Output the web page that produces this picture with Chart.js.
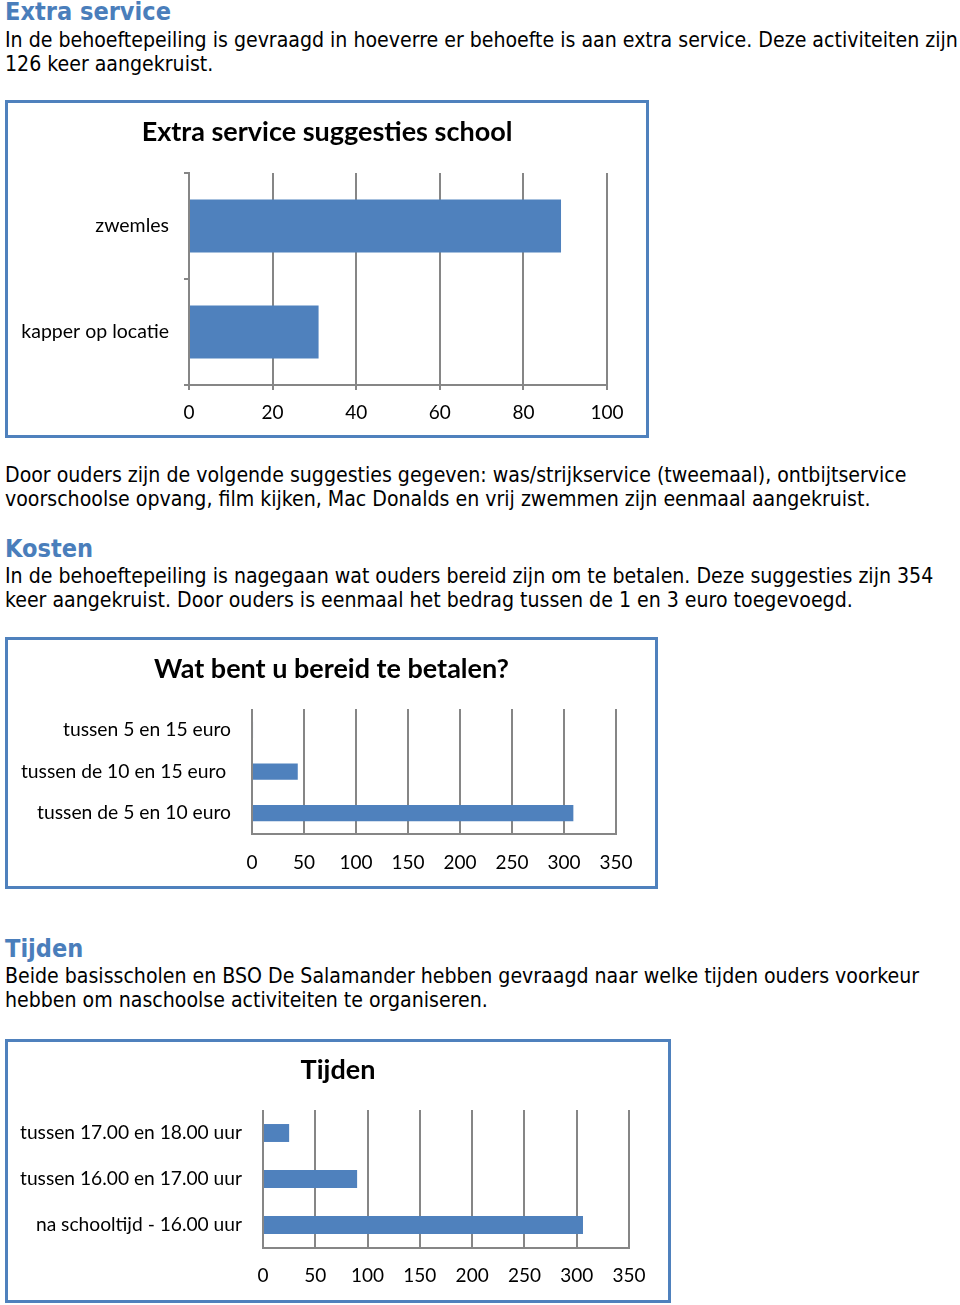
<!DOCTYPE html>
<html>
<head>
<meta charset="utf-8">
<script src="https://cdn.jsdelivr.net/npm/chart.js@4"></script>
<style>
  html, body { margin: 0; padding: 0; background: #fff; }
  body { width: 960px; height: 1305px; position: relative; overflow: hidden; }
  .line { position: absolute; left: 5px; white-space: nowrap; line-height: normal; color: #000;
          font-family: 'DejaVu Sans Condensed', 'DejaVu Sans', sans-serif; }
  .head { color: #4a7ebb; font-weight: bold; }
  .box { position: absolute; left: 5px; box-sizing: border-box; border: 3px solid #4f81bd; background: #fff; }
  .box canvas { display: block; }
</style>
</head>
<body>
<div class="line head" data-base="20">Extra service</div>
<div class="line body" data-base="47">In de behoeftepeiling is gevraagd in hoeverre er behoefte is aan extra service. Deze activiteiten zijn</div>
<div class="line body" data-base="71">126 keer aangekruist.</div>

<div class="box" style="top:100px;width:644px;height:338px"><canvas id="serviceChart" width="638" height="332"></canvas></div>

<div class="line body" data-base="482">Door ouders zijn de volgende suggesties gegeven: was/strijkservice (tweemaal), ontbijtservice</div>
<div class="line body" data-base="506">voorschoolse opvang, film kijken, Mac Donalds en vrij zwemmen zijn eenmaal aangekruist.</div>
<div class="line head" data-base="557">Kosten</div>
<div class="line body" data-base="583">In de behoeftepeiling is nagegaan wat ouders bereid zijn om te betalen. Deze suggesties zijn 354</div>
<div class="line body" data-base="607">keer aangekruist. Door ouders is eenmaal het bedrag tussen de 1 en 3 euro toegevoegd.</div>

<div class="box" style="top:637px;width:653px;height:252px"><canvas id="costChart" width="647" height="246"></canvas></div>

<div class="line head" data-base="957">Tijden</div>
<div class="line body" data-base="983">Beide basisscholen en BSO De Salamander hebben gevraagd naar welke tijden ouders voorkeur</div>
<div class="line body" data-base="1007">hebben om naschoolse activiteiten te organiseren.</div>

<div class="box" style="top:1039px;width:666px;height:264px"><canvas id="timeChart" width="660" height="258"></canvas></div>

<script>
// chart data
const serviceLabels = ['zwemles', 'kapper op locatie']
const serviceValues = [89, 31]

const costLabels = ['tussen 5 en 15 euro', 'tussen de 10 en 15 euro ', 'tussen de 5 en 10 euro']
const costValues = [1, 44, 309]

const timeLabels = ['tussen 17.00 en 18.00 uur', 'tussen 16.00 en 17.00 uur', 'na schooltijd - 16.00 uur']
const timeValues = [25, 90, 306]

// text layout: fit sizes to the widths of the page, put each line on its baseline
const textFamily = "'DejaVu Sans Condensed', 'DejaVu Sans', sans-serif"
function fitFont(el, targetWidth, weight) {
  const ctx = document.createElement('canvas').getContext('2d')
  ctx.font = weight + ' 20px ' + textFamily
  const w = ctx.measureText(el.textContent).width
  return 20 * targetWidth / w
}
const bodySize = fitFont(document.querySelectorAll('.body')[0], 953, 'normal')
const headSize = fitFont(document.querySelector('.head'), 166, 'bold')
document.querySelectorAll('.line').forEach((el) => {
  const isHead = el.classList.contains('head')
  const size = isHead ? headSize : bodySize
  el.style.fontSize = size + 'px'
  const ctx = document.createElement('canvas').getContext('2d')
  ctx.font = (isHead ? 'bold ' : '') + size + 'px ' + textFamily
  const asc = ctx.measureText('Hg').fontBoundingBoxAscent
  el.style.top = (Number(el.dataset.base) - asc) + 'px'
})

Chart.defaults.font.family = 'Lato, Carlito, sans-serif'
Chart.defaults.color = '#000'

const gridGray = '#868686'

function makeBarChart(id, labels, values, cfg) {
  return new Chart(document.getElementById(id), {
    type: 'bar',
    data: {
      labels: labels,
      datasets: [
        {
          data: values,
          backgroundColor: '#4f81bd',
          borderWidth: 0,
          categoryPercentage: 1,
          barPercentage: cfg.barPct,
        },
      ],
    },
    options: {
      indexAxis: 'y',
      responsive: false,
      animation: false,
      devicePixelRatio: 1,
      layout: { padding: 0 },
      plugins: {
        legend: { display: false },
        tooltip: { enabled: false },
        title: {
          display: true,
          text: cfg.title,
          font: { size: 27, weight: 'bold' },
          color: '#000',
          padding: { top: cfg.titleTop, bottom: cfg.titleBottom },
        },
      },
      scales: {
        x: {
          min: 0,
          max: cfg.max,
          ticks: { stepSize: cfg.step, font: { size: 19 }, padding: cfg.xPad, color: '#000' },
          grid: {
            color: gridGray,
            lineWidth: 2,
            drawTicks: cfg.xTicks,
            tickLength: 5,
          },
          border: { display: true, color: gridGray, width: 2 },
          afterFit: (scale) => {
            scale.height = cfg.xHeight
            // keep the plot clear of the right border, like the original
            scale.paddingRight = 39
          },
        },
        y: {
          ticks: { font: { size: cfg.ySize }, padding: cfg.yPad, color: '#000' },
          grid: {
            display: cfg.yTicks,
            drawOnChartArea: false,
            drawTicks: cfg.yTicks,
            tickLength: 5,
            color: gridGray,
            lineWidth: 2,
          },
          border: { display: cfg.yTicks, color: gridGray, width: 2 },
          afterFit: (scale) => {
            scale.width = cfg.yWidth
          },
        },
      },
    },
  })
}

makeBarChart('serviceChart', serviceLabels, serviceValues, {
  title: 'Extra service suggesties school',
  max: 100, step: 20, barPct: 0.5,
  titleTop: 13, titleBottom: 24.6,
  xHeight: 50, xPad: 11, xTicks: true,
  yWidth: 181, yPad: 15, yTicks: true, ySize: 19.5,
})

makeBarChart('costChart', costLabels, costValues, {
  title: 'Wat bent u bereid te betalen?',
  max: 350, step: 50, barPct: 0.39,
  titleTop: 13, titleBottom: 23.6,
  xHeight: 52, xPad: 17, xTicks: false,
  yWidth: 244, yPad: 21, yTicks: false, ySize: 19.3,
})

makeBarChart('timeChart', timeLabels, timeValues, {
  title: 'Tijden',
  max: 350, step: 50, barPct: 0.39,
  titleTop: 12, titleBottom: 23.6,
  xHeight: 52, xPad: 16, xTicks: false,
  yWidth: 255, yPad: 21, yTicks: false, ySize: 19.2,
})
</script>
</body>
</html>
